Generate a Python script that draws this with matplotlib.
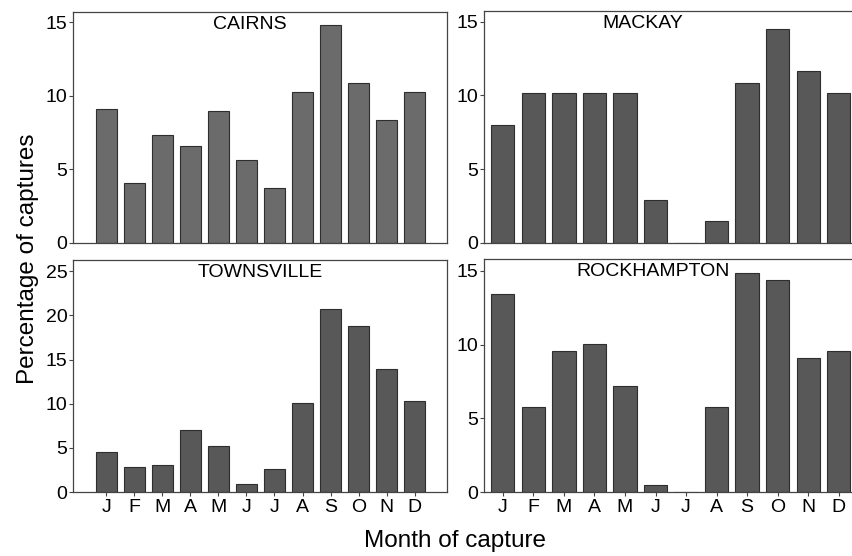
import matplotlib.pyplot as plt
import numpy as np

plt.rcParams['font.family'] = ['Liberation Sans', 'DejaVu Sans']

months = ['J', 'F', 'M', 'A', 'M', 'J', 'J', 'A', 'S', 'O', 'N', 'D']

cairns = [9.1, 4.05, 7.33, 6.58, 8.96, 5.66, 3.73, 10.29, 14.8, 10.9, 8.37, 10.29]
mackay = [7.99, 10.14, 10.14, 10.14, 10.14, 2.9, 0, 1.47, 10.88, 14.5, 11.63, 10.14]
townsville = [4.48, 2.82, 3.05, 7.04, 5.16, 0.94, 2.6, 10.09, 20.67, 18.79, 13.89, 10.32]
rockhampton = [13.4, 5.74, 9.58, 10.03, 7.18, 0.5, 0, 5.74, 14.82, 14.34, 9.1, 9.58]

fig = plt.figure(figsize=(8.53, 5.56), dpi=100)

x = np.arange(len(months))

# (name, values, rect, xlim, ylim, yticks, bar colour, title x, has month labels)
panels = [
    ('CAIRNS', cairns, [0.0856, 0.563, 0.4385, 0.415], (-1.18, 12.15), (0, 15.68), [0, 5, 10, 15], '#6b6b6b', 0.473, False),
    ('MACKAY', mackay, [0.567, 0.563, 0.433, 0.417], (-0.63, 11.47), (0, 15.72), [0, 5, 10, 15], '#585858', 0.43, False),
    ('TOWNSVILLE', townsville, [0.0856, 0.115, 0.4385, 0.417], (-1.18, 12.15), (0, 26.24), [0, 5, 10, 15, 20, 25], '#585858', 0.5, True),
    ('ROCKHAMPTON', rockhampton, [0.567, 0.115, 0.433, 0.419], (-0.63, 11.47), (0, 15.79), [0, 5, 10, 15], '#585858', 0.46, True),
]

for name, vals, rect, xl, yl, yt, col, tx, bottom in panels:
    ax = fig.add_axes(rect)
    w = 0.75 if xl[0] < -1 else 0.76
    ax.bar(x, vals, width=w, color=col, edgecolor='#2e2e2e', linewidth=0.8)
    ax.set_xlim(*xl)
    ax.set_ylim(*yl)
    ax.set_yticks(yt)
    ax.tick_params(axis='y', direction='out', length=3, width=0.8, color='#444444',
                   labelsize=14, pad=1)
    if bottom:
        ax.set_xticks(x)
        ax.set_xticklabels(months)
        ax.tick_params(axis='x', direction='out', length=3, width=0.8, color='#444444',
                       labelsize=14, pad=2)
    else:
        ax.set_xticks([])
    for s in ax.spines.values():
        s.set_color('#444444')
        s.set_linewidth(0.9)
    if xl[0] > -1:
        ax.spines['right'].set_visible(False)
    ax.text(tx, 0.945, name, transform=ax.transAxes, ha='center', va='center', fontsize=14)

fig.text(0.033, 0.534, 'Percentage of captures', rotation=90, ha='center', va='center', fontsize=17.5)
fig.text(0.533, 0.027, 'Month of capture', ha='center', va='center', fontsize=17.5)

fig.savefig('out.png', dpi=100)
